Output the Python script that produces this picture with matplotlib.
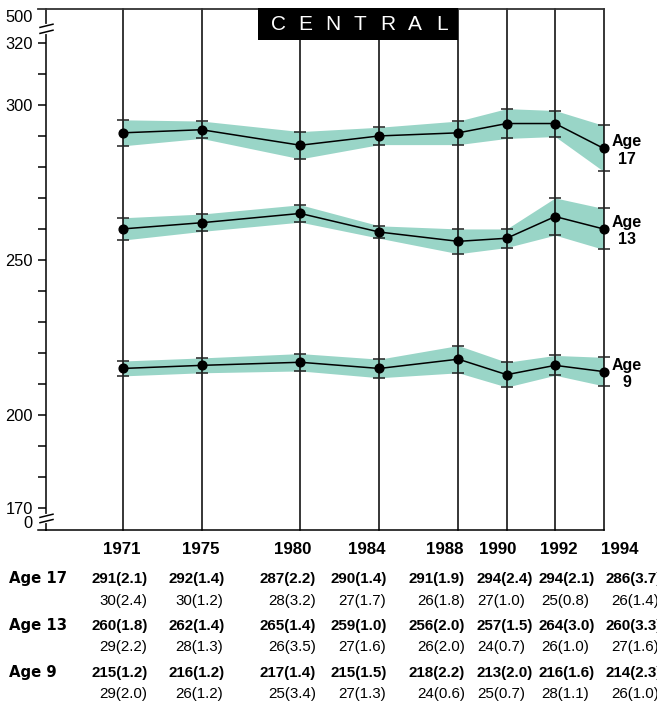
import matplotlib
matplotlib.use("Agg")
import matplotlib.pyplot as plt
import numpy as np
from matplotlib.patches import Rectangle
from matplotlib.lines import Line2D

# ---- data -------------------------------------------------------------
years = [1971, 1975, 1980, 1984, 1988, 1990, 1992, 1994]

age17_mean = [291, 292, 287, 290, 291, 294, 294, 286]
age17_se = [2.1, 1.4, 2.2, 1.4, 1.9, 2.4, 2.1, 3.7]
age17_pct = [30, 30, 28, 27, 26, 27, 25, 26]
age17_pct_se = [2.4, 1.2, 3.2, 1.7, 1.8, 1.0, 0.8, 1.4]

age13_mean = [260, 262, 265, 259, 256, 257, 264, 260]
age13_se = [1.8, 1.4, 1.4, 1.0, 2.0, 1.5, 3.0, 3.3]
age13_pct = [29, 28, 26, 27, 26, 24, 26, 27]
age13_pct_se = [2.2, 1.3, 3.5, 1.6, 2.0, 0.7, 1.0, 1.6]

age9_mean = [215, 216, 217, 215, 218, 213, 216, 214]
age9_se = [1.2, 1.2, 1.4, 1.5, 2.2, 2.0, 1.6, 2.3]
age9_pct = [29, 26, 25, 27, 24, 25, 28, 26]
age9_pct_se = [2.0, 1.2, 3.4, 1.3, 0.6, 0.7, 1.1, 1.0]

age_names = ["17", "13", "9"]
region = "CENTRAL"
ytick_values = list(range(170, 321, 10))
ytick_labelled = [170, 200, 250, 300, 320]

SANS = "Liberation Sans"
HEAVY = "DejaVu Sans"
BAND = "#99d5c7"
W, H = 657, 709

fig = plt.figure(figsize=(W / 100, H / 100), dpi=100)


def fx(x):
    return x / W


def fy(y):
    return 1 - y / H


# plot area in pixel terms
L, R, T, B = 46, 603.5, 8.5, 530
ax = fig.add_axes([fx(L), fy(B), (R - L) / W, (B - T) / H])

# later years are drawn on a slightly stretched axis
bp_in = [1900.0, 1988.0, 2100.0]
bp_out = [1900.0, 1988.0, 1988.0 + 112 * 1.225]
ax.set_xscale("function",
              functions=(lambda v: np.interp(v, bp_in, bp_out),
                         lambda v: np.interp(v, bp_out, bp_in)))
ax.set_xlim(1967.127, 1994)
ax.set_ylim(162.9, 331.1)

series = [
    (age17_mean, age17_se),
    (age13_mean, age13_se),
    (age9_mean, age9_se),
]

# confidence bands (two standard errors)
for mean, se in series:
    m = np.array(mean, float)
    e = 2 * np.array(se, float)
    ax.fill_between(years, m - e, m + e, color=BAND, lw=0, zorder=1)

for yr in years:
    ax.axvline(yr, color="black", lw=1.1, zorder=2, clip_on=False)

for (mean, se), name in zip(series, age_names):
    m = np.array(mean, float)
    e = 2 * np.array(se, float)
    eb = ax.errorbar(years, m, yerr=e, fmt="none", ecolor="#222222",
                     elinewidth=0, capsize=4.4, capthick=1.1, zorder=3)
    for c in eb[1]:
        c.set_clip_on(False)
    ax.plot(years, m, color="black", lw=1.1, marker="o", ms=6.3,
            zorder=4, clip_on=False)
    ax.annotate(f"Age\n{name}", xy=(years[-1], m[-1]), xytext=(8, 14),
                textcoords="offset pixels", ha="left", va="top",
                multialignment="center", fontweight="bold", fontsize=11.5,
                family=SANS, linespacing=1.2, annotation_clip=False)

# axes frame
ax.spines["right"].set_visible(False)
ax.spines["left"].set_linewidth(1.1)
ax.spines["bottom"].set_linewidth(1.1)
ax.spines["top"].set_linewidth(1.3)
ax.spines["top"].set_color("#333333")

ax.set_xticks([])
ax.set_yticks(ytick_values)
ax.set_yticklabels([str(v) if v in ytick_labelled else "" for v in ytick_values],
                   family=SANS, fontsize=11.8)
ax.tick_params(axis="y", length=5.8, width=1.1, pad=3.6, direction="out")
ax.patch.set_visible(False)

# extended top / bottom rules and the axis break marks
fig.add_artist(Line2D([fx(38), fx(L)], [fy(T), fy(T)], transform=fig.transFigure,
                      color="#333333", lw=1.3))
fig.add_artist(Line2D([fx(38), fx(L)], [fy(B), fy(B)], transform=fig.transFigure,
                      color="black", lw=1.1))
for g0, g1 in ((25.8, 31.8), (515.8, 521.1)):
    fig.add_artist(Line2D([fx(L), fx(L)], [fy(g0), fy(g1)], transform=fig.transFigure,
                          color="white", lw=3, zorder=6))
    for gy in (g0, g1):
        fig.add_artist(Line2D([fx(40), fx(53)], [fy(gy + 1.6), fy(gy - 1.6)],
                              transform=fig.transFigure, color="black", lw=1.1, zorder=7))
fig.text(fx(33), fy(18), "500", ha="right", va="center", family=SANS, fontsize=11.8)
fig.text(fx(33), fy(524), "0", ha="right", va="center", family=SANS, fontsize=11.8)

# region title box
fig.add_artist(Rectangle((fx(258), fy(39.5)), 200 / W, 31.5 / H, transform=fig.transFigure,
                         facecolor="black", edgecolor="none", zorder=8))
for i, ch in enumerate(region):
    fig.text(fx(278 + i * 27.35), fy(30.5), ch, ha="center", va="baseline",
             color="white", family=SANS, fontsize=15, zorder=9)

# ---- table below the chart -------------------------------------------
year_label_x = [122, 201, 293, 366.5, 445, 497.5, 558.5, 620]
for yr, xc in zip(years, year_label_x):
    fig.text(fx(xc), fy(554.5), str(yr), ha="center", va="baseline",
             family=SANS, fontweight="bold", fontsize=12.2)

row1_right = [148, 225, 316, 387, 465, 533, 595, 662]
row2_right = [147, 223, 316, 386, 465, 525, 589, 659]
table = [
    ("Age 17", age17_mean, age17_se, age17_pct, age17_pct_se),
    ("Age 13", age13_mean, age13_se, age13_pct, age13_pct_se),
    ("Age 9", age9_mean, age9_se, age9_pct, age9_pct_se),
]
row_base = [583.5, 630, 676.5]
for (label, mean, se, pct, pse), yb in zip(table, row_base):
    fig.text(fx(9), fy(yb), label, ha="left", va="baseline",
             family=HEAVY, fontweight="bold", fontsize=10.7)
    for k in range(len(years)):
        fig.text(fx(row1_right[k]), fy(yb), f"{mean[k]}({se[k]:.1f})",
                 ha="right", va="baseline", family=SANS, fontweight="bold",
                 fontsize=10.9)
        fig.text(fx(row2_right[k]), fy(yb + 21.5), f"{pct[k]}({pse[k]:.1f})",
                 ha="right", va="baseline", family=SANS, fontsize=10.9)

fig.savefig("out.png", dpi=100)
